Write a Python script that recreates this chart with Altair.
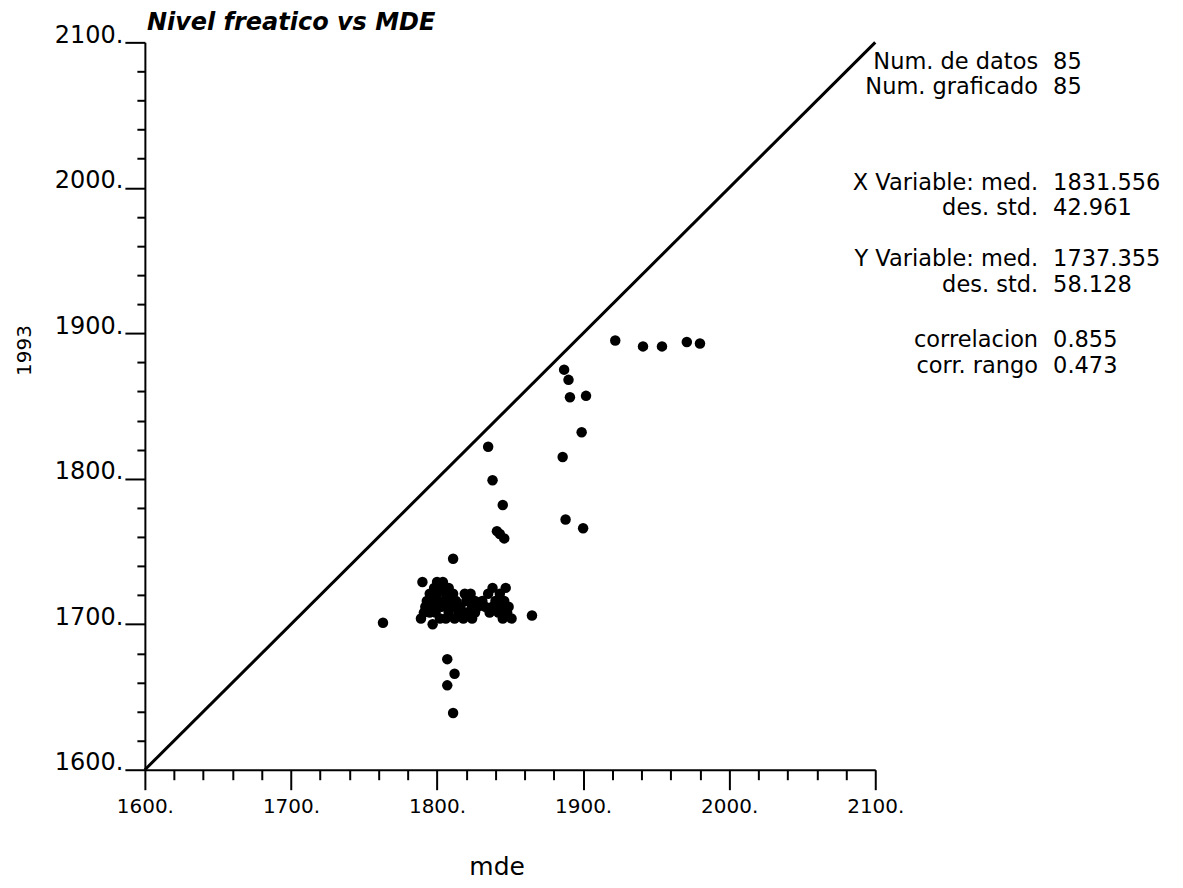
import altair as alt
import pandas as pd

# ---- data ----
mde = [
    1922, 1941, 1954, 1971, 1980,
    1887, 1890, 1891, 1902, 1899, 1886, 1888, 1900,
    1835, 1838, 1845, 1841, 1846, 1843,
    1811, 1763, 1865, 1807, 1812, 1807, 1811,
    1790, 1800, 1804,
    1798, 1803, 1808, 1838, 1847,
    1795, 1800, 1806, 1811, 1819, 1823, 1835, 1843,
    1793, 1797, 1801, 1805, 1809, 1813, 1820, 1826, 1831, 1840, 1846,
    1792, 1796, 1800, 1803, 1807, 1812, 1816, 1824, 1828, 1833, 1838, 1844, 1849,
    1791, 1795, 1799, 1808, 1815, 1820, 1826, 1836, 1842, 1848,
    1789, 1797, 1802, 1806, 1812, 1818, 1824, 1845, 1851,
]
y1993 = [
    1895, 1891, 1891, 1894, 1893,
    1875, 1868, 1856, 1857, 1832, 1815, 1772, 1766,
    1822, 1799, 1782, 1764, 1759, 1762,
    1745, 1701, 1706, 1676, 1666, 1658, 1639,
    1729, 1729, 1729,
    1725, 1725, 1725, 1725, 1725,
    1721, 1721, 1721, 1721, 1721, 1721, 1721, 1721,
    1716, 1716, 1716, 1716, 1716, 1716, 1716, 1716, 1716, 1716, 1716,
    1712, 1712, 1712, 1712, 1712, 1712, 1712, 1712, 1712, 1712, 1712, 1712, 1712,
    1708, 1708, 1708, 1708, 1708, 1708, 1708, 1708, 1708, 1708,
    1704, 1700, 1704, 1704, 1704, 1704, 1704, 1704, 1704,
]
diag = [1600, 2100]

stat_labels = ["Num. de datos", "Num. graficado", "X Variable: med.", "des. std.",
               "Y Variable: med.", "des. std.", "correlacion", "corr. rango"]
stat_values = ["85", "85", "1831.556", "42.961", "1737.355", "58.128", "0.855", "0.473"]

title_text = "Nivel freatico vs MDE"
x_title = "mde"
y_title = "1993"

tick_vals = list(range(1600, 2101, 20))

FONT = "DejaVu Sans"

pts = pd.DataFrame({"mde": mde, "y": y1993})
line_df = pd.DataFrame({"mde": diag, "y": diag})

xscale = alt.Scale(domain=[1600, 2100], nice=False, zero=False)
yscale = alt.Scale(domain=[1600, 2100], nice=False, zero=False)

label_expr = "datum.value % 100 === 0 ? format(datum.value, 'd') + '.' : ''"

x_axis = alt.Axis(
    values=tick_vals, tickCount=100, labelExpr=label_expr, grid=False,
    tickSize={"expr": "datum.value % 100 === 0 ? 20 : 10"},
    tickWidth=2, tickColor="black", domainColor="black", domainWidth=2,
    labelFont=FONT, labelFontSize=20, labelColor="black", labelPadding=7,
    labelOverlap=False, labelFlush=False,
    title=x_title, titleFont=FONT, titleFontSize=25, titleFontWeight="normal",
    titleColor="black", titleX=352, titleY=97, titleBaseline="middle", titleAlign="center",
)
y_axis = alt.Axis(
    values=tick_vals, tickCount=100, labelExpr=label_expr, grid=False,
    tickSize={"expr": "datum.value % 100 === 0 ? 20 : 8"},
    tickWidth=2, tickColor="black", domainColor="black", domainWidth=2,
    labelFont=FONT, labelFontSize=24, labelColor="black", labelPadding=2,
    labelBaseline="alphabetic", labelAlign="right",
    labelOverlap=False, labelFlush=False,
    title=y_title, titleFont=FONT, titleFontSize=20, titleFontWeight="normal",
    titleColor="black", titleX=-120, titleY=308, titleAngle=270,
    titleBaseline="middle", titleAlign="center",
)

diag_line = alt.Chart(line_df).mark_line(color="black", strokeWidth=3).encode(
    x=alt.X("mde:Q", scale=xscale, axis=x_axis),
    y=alt.Y("y:Q", scale=yscale, axis=y_axis),
)

points = alt.Chart(pts).mark_point(filled=True, shape="circle", size=110, color="black", opacity=1).encode(
    x=alt.X("mde:Q", scale=xscale, axis=x_axis),
    y=alt.Y("y:Q", scale=yscale, axis=y_axis),
)

title_mark = alt.Chart(pd.DataFrame({"t": [title_text]})).mark_text(
    font=FONT, fontSize=24, fontStyle="italic", fontWeight="bold", color="black",
    align="left", baseline="alphabetic",
).encode(text="t:N", x=alt.value(2), y=alt.value(-12))

line_y = [20, 45, 141, 166, 217, 243, 298, 324]
stat_layers = []
for lab, val, yy in zip(stat_labels, stat_values, line_y):
    d = pd.DataFrame({"lab": [lab], "val": [val]})
    stat_layers.append(
        alt.Chart(d).mark_text(font=FONT, fontSize=22.5, color="black", align="right", baseline="middle")
        .encode(text="lab:N", x=alt.value(894), y=alt.value(yy))
    )
    stat_layers.append(
        alt.Chart(d).mark_text(font=FONT, fontSize=22.5, color="black", align="left", baseline="middle")
        .encode(text="val:N", x=alt.value(909), y=alt.value(yy))
    )

chart = alt.layer(diag_line, points, title_mark, *stat_layers).properties(
    width=731, height=728,
    background="white",
    autosize=alt.AutoSizeParams(type="none"),
    padding={"left": 137, "top": 34, "right": 300, "bottom": 112},
).configure_view(strokeWidth=0, stroke="transparent")

chart.save("out.html", embed_options={"renderer": "svg", "actions": False})
